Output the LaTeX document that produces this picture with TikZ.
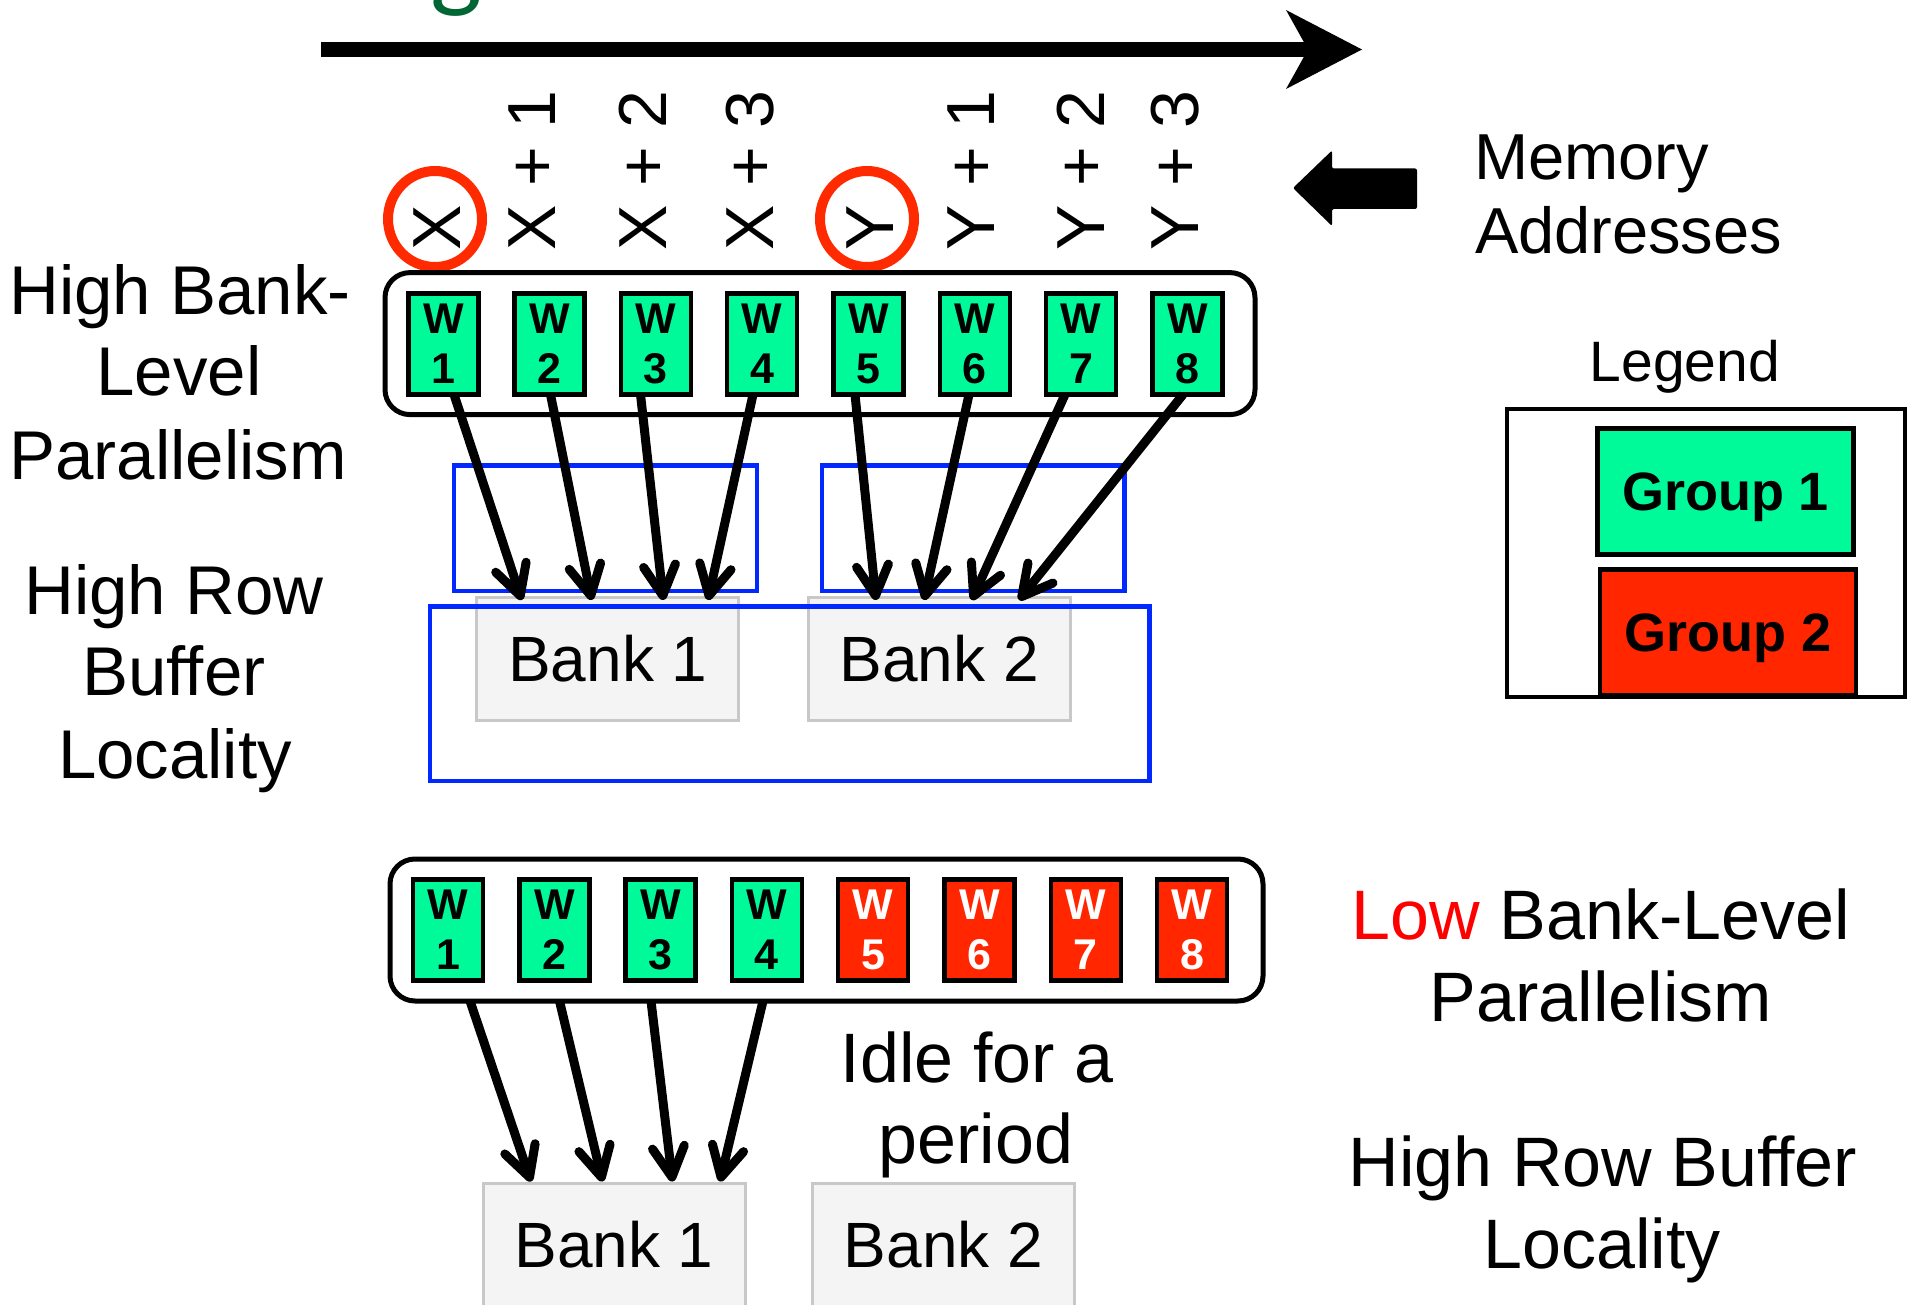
\documentclass[tikz,border=0pt]{standalone}
\usepackage{fontspec}
\setmainfont{Liberation Sans}
\newfontfamily\titlefont{Carlito}
\usetikzlibrary{arrows.meta,shapes.geometric,calc}
\definecolor{wgreen}{RGB}{0,250,154}
\definecolor{wred}{RGB}{255,38,0}
\definecolor{cred}{RGB}{255,42,0}
\definecolor{bblue}{RGB}{0,40,255}
\definecolor{bankfill}{RGB}{244,244,244}
\definecolor{bankline}{RGB}{200,200,200}
\definecolor{tgreen}{RGB}{0,102,51}
\definecolor{lowred}{RGB}{255,0,0}
\begin{document}
\begin{tikzpicture}[x=1pt,y=-1pt,
 every node/.style={inner sep=0pt,outer sep=0pt},
 lbl/.style={anchor=base,font=\fontsize{69}{82}\selectfont},
 rlbl/.style={anchor=base,font=\fontsize{70}{84}\selectfont},
 addr/.style={rotate=90,anchor=base west,font=\fontsize{68}{80}\selectfont},
 hit/.style={draw=cred,line width=10pt,ellipse,minimum width=94pt,minimum height=96pt},
 rowbox/.style={draw,line width=5pt,rounded corners=25pt,minimum height=142pt},
 wbox/.style={draw,line width=4.5pt,fill=wgreen,minimum width=70pt,minimum height=101pt,align=center,font=\fontsize{43}{50}\selectfont\bfseries},
 wboxr/.style={wbox,fill=wred,text=white},
 bank/.style={draw=bankline,line width=3pt,fill=bankfill,minimum width=262pt,minimum height=123pt,font=\fontsize{64}{77}\selectfont},
 bluebox/.style={draw=bblue,line width=4.5pt},
 arr/.style={line width=9pt,-{Straight Barb[length=30pt,width=32pt,round]}},
 grp/.style={draw,line width=4.5pt,minimum width=256pt,minimum height=126pt,font=\fontsize{54}{64}\selectfont\bfseries,text height=38.7pt,text depth=0pt}
]
\fill[white] (0,0) rectangle (1907,1305);
\useasboundingbox (0,0) rectangle (1907,1305);

% cut-off title
\node[anchor=base west,text=tgreen,font=\titlefont\fontsize{110}{130}\selectfont] (title) at (50,-2) {Accessing Pattern};

% big time arrow
\coordinate (bigA) at (321,49.5);
\coordinate (bigN) at (1310,49.5);
\coordinate (bigB) at (1362,49.5);
\draw[line width=15pt] (bigA) -- (bigN);
\fill (bigB) -- (1286,10) -- (1308,49.5) -- (1286,89) -- cycle;

% memory address labels
\node[addr] (a0) at (460,251) {X};
\node[addr] (a1) at (555,251) {X + 1};
\node[addr] (a2) at (666,251) {X + 2};
\node[addr] (a3) at (773,251) {X + 3};
\node[addr] (a4) at (893,251) {Y};
\node[addr] (a5) at (994,251) {Y + 1};
\node[addr] (a6) at (1104,251) {Y + 2};
\node[addr] (a7) at (1198,251) {Y + 3};
\node[hit] (cx) at (435,219) {};
\node[hit] (cy) at (867,219) {};

% memory addresses block arrow and text
\fill[rounded corners=2pt] (1293,188) -- (1332,150.5) -- (1332,168.5) -- (1417,168.5) -- (1417,209) -- (1332,209) -- (1332,226) -- cycle;
\node[anchor=base west,font=\fontsize{65}{74}\selectfont] (m1) at (1474,179.5) {Memory};
\node[anchor=base west,font=\fontsize{65}{74}\selectfont] (m2) at (1475,253.5) {Addresses};

% left labels
\node[lbl] (l1) at (180,315) {High Bank-};
\node[lbl] (l2) at (179,395.6) {Level};
\node[lbl] (l3) at (178,479.7) {Parallelism};
\node[lbl] (l4) at (174,614.8) {High Row};
\node[lbl] (l5) at (174,695.5) {Buffer};
\node[lbl] (l6) at (175,778) {Locality};

% top row
\node[rowbox,minimum width=870pt] (row1) at (820,343.6) {};
\foreach \i/\x in {1/443.3,2/549.6,3/655.9,4/762.2,5/868.5,6/974.8,7/1081.1,8/1187.4}
  \node[wbox] (t\i) at (\x,344) {W\\\i};

% banks (top)
\node[bank] (bk1) at (607.8,659) {Bank 1};
\node[bank] (bk2) at (939.2,659) {Bank 2};

% blue boxes
\node[bluebox,minimum width=303pt,minimum height=125.6pt] (blA) at (605.5,528.3) {};
\node[bluebox,minimum width=302.3pt,minimum height=125.6pt] (blB) at (973.35,528.3) {};
\node[bluebox,minimum width=719.5pt,minimum height=174.5pt] (blC) at (789.75,693.75) {};

% top arrows
\draw[arr] ([xshift=10.7pt]t1.south) -- ([xshift=-86.1pt,yshift=-2.5pt]bk1.north);
\draw[arr] ([xshift=0.9pt]t2.south) -- ([xshift=-16.1pt,yshift=-2.5pt]bk1.north);
\draw[arr] ([xshift=-15.4pt]t3.south) -- ([xshift=55.5pt,yshift=-2.5pt]bk1.north);
\draw[arr] ([xshift=-9.2pt]t4.south) -- ([xshift=100.2pt,yshift=-2.5pt]bk1.north);
\draw[arr] ([xshift=-13.5pt]t5.south) -- ([xshift=-63.2pt,yshift=-2.5pt]bk2.north);
\draw[arr] ([xshift=-5.8pt]t6.south) -- ([xshift=-15.2pt,yshift=-2.5pt]bk2.north);
\draw[arr] ([xshift=-16.1pt]t7.south) -- ([xshift=32.5pt,yshift=-2.5pt]bk2.north);
\draw[arr] ([xshift=-4.4pt]t8.south) -- ([xshift=79.8pt,yshift=-2.5pt]bk2.north);

% legend
\node[anchor=base,font=\fontsize{57}{68}\selectfont] (legt) at (1685,381.7) {Legend};
\node[draw,line width=4.3pt,minimum width=398pt,minimum height=288pt] (legbox) at (1706,553) {};
\node[grp,fill=wgreen] (g1) at (1725.5,491.5) {Group 1};
\node[grp,fill=wred] (g2) at (1728,632.5) {Group 2};

% bottom row
\node[rowbox,minimum width=873pt] (row2) at (826.5,930) {};
\foreach \i/\x in {1/448,2/554.3,3/660.6,4/766.9}
  \node[wbox] (b\i) at (\x,930) {W\\\i};
\foreach \i/\x in {5/873.2,6/979.5,7/1085.8,8/1192.1}
  \node[wboxr] (b\i) at (\x,930) {W\\\i};

\node[bank] (bk1b) at (614,1245) {Bank 1};
\node[bank] (bk2b) at (943.5,1245) {Bank 2};

\draw[arr] ([xshift=-356.5pt]row2.south) -- ([xshift=-83pt,yshift=2pt]bk1b.north);
\draw[arr] ([xshift=-267pt]row2.south) -- ([xshift=-11.5pt,yshift=2pt]bk1b.north);
\draw[arr] ([xshift=-175.5pt]row2.south) -- ([xshift=58.5pt,yshift=2pt]bk1b.north);
\draw[arr] ([xshift=-63.5pt]row2.south) -- ([xshift=106pt,yshift=2pt]bk1b.north);

\node[rlbl] (i1) at (977,1082.7) {Idle for a};
\node[rlbl] (i2) at (976,1163) {period};

% right labels
\node[rlbl] (r1) at (1601,939.3) {\textcolor{lowred}{Low} Bank-Level};
\node[rlbl] (r2) at (1601,1021) {Parallelism};
\node[rlbl] (r3) at (1603,1186.7) {High Row Buffer};
\node[rlbl] (r4) at (1602,1268.3) {Locality};
\end{tikzpicture}
\end{document}
